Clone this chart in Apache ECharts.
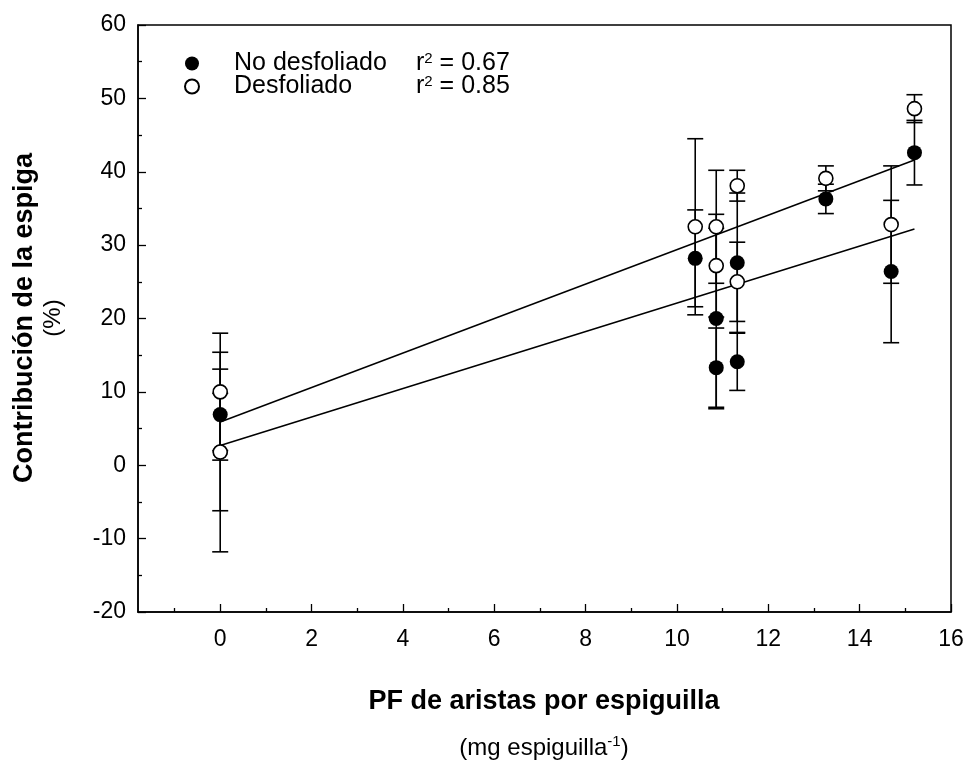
<!DOCTYPE html>
<html>
<head>
<meta charset="utf-8">
<script src="https://cdn.jsdelivr.net/npm/echarts@6/dist/echarts.min.js"></script>
<style>
  html, body { margin: 0; padding: 0; background: #fff; }
  #chart { width: 966px; height: 760px; }
</style>
</head>
<body>
<div id="chart"></div>
<script>
// No desfoliado (filled circles)
const xFilled = [0, 0, 10.4, 10.86, 10.86, 11.32, 11.32, 13.26, 14.69, 15.2]
const yFilled = [6.9, 1.8, 28.2, 20.0, 13.3, 27.6, 14.1, 36.3, 26.4, 42.6]
const errFilled = [6.2, 8.0, 6.6, 12.3, 5.4, 9.5, 3.9, 2.0, 9.7, 4.4]

// Desfoliado (open circles)
const xOpen = [0, 0, 10.4, 10.86, 10.86, 11.32, 11.32, 13.26, 14.69, 15.2]
const yOpen = [10.0, 1.8, 32.5, 32.5, 27.2, 38.1, 25.0, 39.1, 32.8, 48.6]
const errOpen = [8.0, 13.6, 12.0, 7.7, 7.0, 2.1, 5.4, 1.7, 8.0, 1.9]

// regression lines
const fitX = [0, 15.2]
const fitFilled = [2.7, 32.2]
const fitOpen = [5.9, 41.6]

const xMajor = [0, 2, 4, 6, 8, 10, 12, 14, 16]
const xMinor = [-1, 1, 3, 5, 7, 9, 11, 13, 15]

const FONT = '"Liberation Sans", Arial, sans-serif'

const chart = echarts.init(document.getElementById('chart'))

const pairs = (xs, ys) => xs.map((x, i) => [x, ys[i]])
const triples = (xs, ys, es) => xs.map((x, i) => [x, ys[i], es[i]])

// vertical error bar with caps
function errorBar(params, api) {
  const x = api.value(0)
  const y = api.value(1)
  const e = api.value(2)
  const top = api.coord([x, y + e])
  const bot = api.coord([x, y - e])
  const half = 8
  const style = { stroke: '#000', lineWidth: 1.6 }
  return {
    type: 'group',
    children: [
      { type: 'line', shape: { x1: top[0], y1: top[1], x2: bot[0], y2: bot[1] }, style },
      { type: 'line', shape: { x1: top[0] - half, y1: top[1], x2: top[0] + half, y2: top[1] }, style },
      { type: 'line', shape: { x1: bot[0] - half, y1: bot[1], x2: bot[0] + half, y2: bot[1] }, style }
    ]
  }
}

const legendText = {
  'No desfoliado': '{g| }{n|No desfoliado}{r|r}{s|2}{r| = 0.67}',
  'Desfoliado': '{g| }{n|Desfoliado}{r|r}{s|2}{r| = 0.85}'
}

const option = {
  animation: false,
  textStyle: { fontFamily: FONT },
  grid: {
    left: 138, right: 15, top: 25, bottom: 148,
    outerBoundsMode: 'none',
    show: true, borderColor: '#000', borderWidth: 1.5
  },
  legend: {
    orient: 'vertical',
    left: 179,
    top: 46,
    itemWidth: 14,
    itemHeight: 14,
    itemGap: -2,
    icon: 'circle',
    data: ['No desfoliado', 'Desfoliado'],
    formatter: name => legendText[name],
    textStyle: {
      fontFamily: FONT,
      color: '#000',
      lineHeight: 23,
      rich: {
        g: { width: 30, lineHeight: 23 },
        n: { width: 182, fontSize: 25, lineHeight: 23, fontFamily: FONT, color: '#000' },
        r: { fontSize: 25, lineHeight: 23, fontFamily: FONT, color: '#000' },
        s: { fontSize: 15, lineHeight: 13, fontFamily: FONT, color: '#000', padding: [0, 0, 10, 0] }
      }
    }
  },
  xAxis: [
    {
      type: 'value', min: -1.8, max: 16,
      axisLine: { onZero: false, lineStyle: { color: '#000', width: 1.5 } },
      axisTick: { inside: true, length: 8, customValues: xMajor, lineStyle: { color: '#000', width: 1.3 } },
      axisLabel: { customValues: xMajor, color: '#000', fontSize: 23, fontFamily: FONT, margin: 16 },
      splitLine: { show: false }
    },
    {
      type: 'value', min: -1.8, max: 16, position: 'bottom',
      axisLine: { show: false, onZero: false },
      axisTick: { inside: true, length: 4, customValues: xMinor, lineStyle: { color: '#000', width: 1.3 } },
      axisLabel: { show: false },
      splitLine: { show: false }
    }
  ],
  yAxis: {
    type: 'value', min: -20, max: 60, interval: 10,
    axisLine: { show: true, onZero: false, lineStyle: { color: '#000', width: 1.5 } },
    axisTick: { show: true, inside: true, length: 8, lineStyle: { color: '#000', width: 1.3 } },
    minorTick: { show: true, splitNumber: 2, length: 4, lineStyle: { color: '#000', width: 1.3 } },
    axisLabel: { color: '#000', fontSize: 23, fontFamily: FONT, margin: 12 },
    splitLine: { show: false }
  },
  graphic: [
    {
      type: 'text',
      x: 544, y: 702,
      style: {
        text: 'PF de aristas por espiguilla',
        font: 'bold 27px ' + FONT, fill: '#000',
        align: 'center', verticalAlign: 'middle'
      }
    },
    {
      type: 'text',
      x: 544, y: 748,
      style: {
        text: '{a|(mg espiguilla}{s|-1}{a|)}',
        fill: '#000',
        align: 'center', verticalAlign: 'middle',
        rich: {
          a: { fontSize: 24, fontFamily: FONT, fill: '#000' },
          s: { fontSize: 15, fontFamily: FONT, fill: '#000', padding: [0, 0, 13, 0] }
        }
      }
    },
    {
      type: 'text',
      x: 25, y: 318, rotation: Math.PI / 2,
      style: {
        text: 'Contribución de la espiga',
        font: 'bold 27px ' + FONT, fill: '#000',
        align: 'center', verticalAlign: 'middle'
      }
    },
    {
      type: 'text',
      x: 53, y: 318, rotation: Math.PI / 2,
      style: {
        text: '(%)',
        font: '24px ' + FONT, fill: '#000',
        align: 'center', verticalAlign: 'middle'
      }
    }
  ],
  series: [
    {
      type: 'custom', name: 'errFilled', renderItem: errorBar,
      data: triples(xFilled, yFilled, errFilled), z: 1, silent: true
    },
    {
      type: 'custom', name: 'errOpen', renderItem: errorBar,
      data: triples(xOpen, yOpen, errOpen), z: 1, silent: true
    },
    {
      type: 'line', name: 'fitFilled', data: pairs(fitX, fitFilled),
      showSymbol: false, symbol: 'none', z: 2,
      lineStyle: { color: '#000', width: 1.5 }
    },
    {
      type: 'line', name: 'fitOpen', data: pairs(fitX, fitOpen),
      showSymbol: false, symbol: 'none', z: 2,
      lineStyle: { color: '#000', width: 1.5 }
    },
    {
      type: 'scatter', name: 'No desfoliado', data: pairs(xFilled, yFilled),
      symbol: 'circle', symbolSize: 15, z: 3,
      itemStyle: { color: '#000', opacity: 1 }
    },
    {
      type: 'scatter', name: 'Desfoliado', data: pairs(xOpen, yOpen),
      symbol: 'circle', symbolSize: 14, z: 4,
      itemStyle: { color: '#fff', borderColor: '#000', borderWidth: 1.6, opacity: 1 }
    }
  ]
}

chart.setOption(option)
</script>
</body>
</html>
